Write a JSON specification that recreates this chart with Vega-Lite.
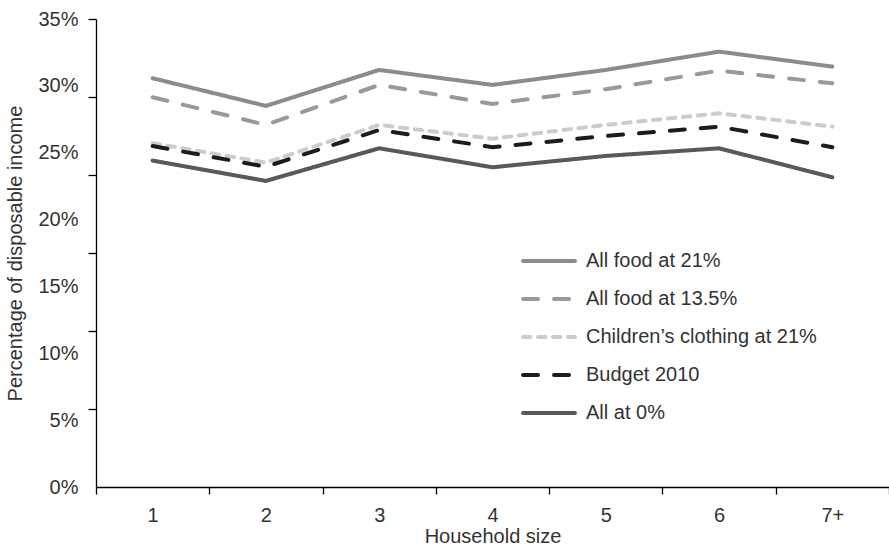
{
  "$schema": "https://vega.github.io/schema/vega-lite/v6.json",
  "width": 793,
  "height": 468,
  "autosize": {"type": "none"},
  "padding": {"left": 96, "top": 19, "right": 0, "bottom": 61},
  "background": "white",
  "config": {"view": {"stroke": null}, "font": "Liberation Sans"},
  "data": {
    "values": [
      {"size": "1", "series": "All food at 21%", "value": 30.57},
      {"size": "2", "series": "All food at 21%", "value": 28.5},
      {"size": "3", "series": "All food at 21%", "value": 31.19},
      {"size": "4", "series": "All food at 21%", "value": 30.07},
      {"size": "5", "series": "All food at 21%", "value": 31.19},
      {"size": "6", "series": "All food at 21%", "value": 32.56},
      {"size": "7+", "series": "All food at 21%", "value": 31.44},
      {"size": "1", "series": "All food at 13.5%", "value": 29.15},
      {"size": "2", "series": "All food at 13.5%", "value": 27.08},
      {"size": "3", "series": "All food at 13.5%", "value": 30.07},
      {"size": "4", "series": "All food at 13.5%", "value": 28.65},
      {"size": "5", "series": "All food at 13.5%", "value": 29.75},
      {"size": "6", "series": "All food at 13.5%", "value": 31.14},
      {"size": "7+", "series": "All food at 13.5%", "value": 30.19},
      {"size": "1", "series": "Children’s clothing at 21%", "value": 25.71},
      {"size": "2", "series": "Children’s clothing at 21%", "value": 24.26},
      {"size": "3", "series": "Children’s clothing at 21%", "value": 27.08},
      {"size": "4", "series": "Children’s clothing at 21%", "value": 26.05},
      {"size": "5", "series": "Children’s clothing at 21%", "value": 27.08},
      {"size": "6", "series": "Children’s clothing at 21%", "value": 27.95},
      {"size": "7+", "series": "Children’s clothing at 21%", "value": 26.95},
      {"size": "1", "series": "Budget 2010", "value": 25.5},
      {"size": "2", "series": "Budget 2010", "value": 23.95},
      {"size": "3", "series": "Budget 2010", "value": 26.7},
      {"size": "4", "series": "Budget 2010", "value": 25.41},
      {"size": "5", "series": "Budget 2010", "value": 26.25},
      {"size": "6", "series": "Budget 2010", "value": 26.95},
      {"size": "7+", "series": "Budget 2010", "value": 25.41},
      {"size": "1", "series": "All at 0%", "value": 24.41},
      {"size": "2", "series": "All at 0%", "value": 22.89},
      {"size": "3", "series": "All at 0%", "value": 25.33},
      {"size": "4", "series": "All at 0%", "value": 23.91},
      {"size": "5", "series": "All at 0%", "value": 24.76},
      {"size": "6", "series": "All at 0%", "value": 25.33},
      {"size": "7+", "series": "All at 0%", "value": 23.16}
    ]
  },
  "mark": {"type": "line", "strokeWidth": 4, "strokeCap": "round", "strokeJoin": "miter"},
  "encoding": {
    "x": {
      "field": "size",
      "type": "ordinal",
      "sort": ["1", "2", "3", "4", "5", "6", "7+"],
      "scale": {"type": "band", "paddingInner": 0, "paddingOuter": 0},
      "axis": {
        "title": "Household size",
        "titleFontSize": 20,
        "titleFontWeight": "normal",
        "titleColor": "#333333",
        "titlePadding": 1,
        "labelFontSize": 20,
        "labelColor": "#333333",
        "labelAngle": 0,
        "labelPadding": 11,
        "tickBand": "extent",
        "tickSize": 7,
        "tickColor": "#000000",
        "tickWidth": 1.3,
        "domainColor": "#000000",
        "domainWidth": 1.3,
        "grid": false
      }
    },
    "y": {
      "field": "value",
      "type": "quantitative",
      "scale": {"domain": [0, 35], "nice": false, "zero": true},
      "axis": {
        "title": "Percentage of disposable income",
        "titleFontSize": 20,
        "titleFontWeight": "normal",
        "titleColor": "#333333",
        "titlePadding": 12,
        "values": [0, 5, 10, 15, 20, 25, 30, 35, 5.8333, 11.6667, 17.5, 23.3333, 29.1667],
        "labelExpr": "datum.value % 5 === 0 ? datum.value + '%' : ''",
        "labelFontSize": 20,
        "labelColor": "#333333",
        "labelPadding": 10,
        "labelOverlap": false,
        "labelFlush": false,
        "labelBound": false,
        "tickSize": 8,
        "tickColor": "#000000",
        "tickWidth": 1.3,
        "tickOpacity": {"condition": {"test": "datum.value % 5 === 0 && datum.value !== 35", "value": 0}, "value": 1},
        "domainColor": "#000000",
        "domainWidth": 1.3,
        "grid": false
      }
    },
    "color": {
      "field": "series",
      "type": "nominal",
      "scale": {
        "domain": ["All food at 21%", "All food at 13.5%", "Children’s clothing at 21%", "Budget 2010", "All at 0%"],
        "range": ["#8c8c8c", "#999999", "#cccccc", "#1c1c1c", "#595959"]
      },
      "legend": {
        "title": null,
        "orient": "none",
        "legendX": 425,
        "legendY": 214,
        "padding": 0,
        "symbolType": "stroke",
        "symbolSize": 2700,
        "symbolStrokeWidth": 4,
        "labelFontSize": 20,
        "labelColor": "#333333",
        "labelOffset": 9,
        "rowPadding": -2.5,
        "labelLimit": 400,
        "encode": {"symbols": {"update": {"strokeCap": {"value": "round"}}}}
      }
    },
    "strokeDash": {
      "field": "series",
      "type": "nominal",
      "scale": {
        "domain": ["All food at 21%", "All food at 13.5%", "Children’s clothing at 21%", "Budget 2010", "All at 0%"],
        "range": [[1, 0], [15, 16], [7.5, 7.5], [15, 16], [1, 0]]
      },
      "legend": {
        "title": null,
        "orient": "none",
        "legendX": 425,
        "legendY": 214,
        "padding": 0,
        "symbolType": "stroke",
        "symbolSize": 2700,
        "symbolStrokeWidth": 4,
        "labelFontSize": 20,
        "labelColor": "#333333",
        "labelOffset": 9,
        "rowPadding": -2.5,
        "labelLimit": 400,
        "encode": {"symbols": {"update": {"strokeCap": {"value": "round"}}}}
      }
    }
  }
}
